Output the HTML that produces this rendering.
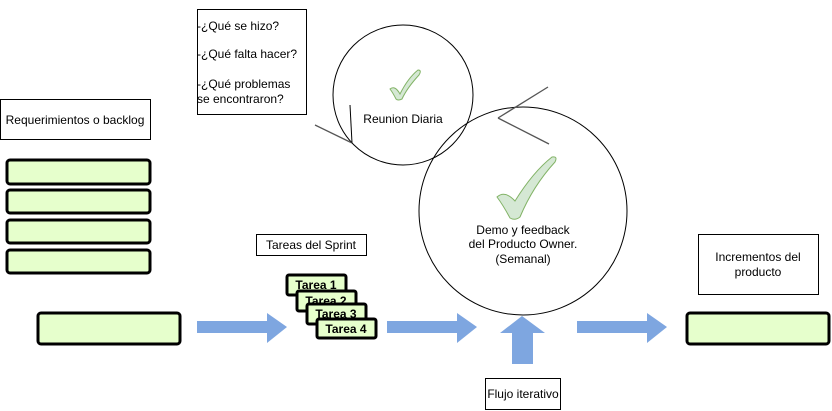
<!DOCTYPE html>
<html><head><meta charset="utf-8"><style>
html,body{margin:0;padding:0;background:#fff}
svg{display:block}
text{font-family:"Liberation Sans",sans-serif;font-size:12px;fill:#000}
</style></head><body>
<svg width="832" height="411" viewBox="0 0 832 411" xmlns="http://www.w3.org/2000/svg">
<rect x="197.5" y="9.5" width="109" height="105" fill="#fff" stroke="#000"/>
<text x="197" y="30">-¿Qué se hizo?</text>
<text x="197" y="58">-¿Qué falta hacer?</text>
<text x="197" y="88">-¿Qué problemas</text>
<text x="197" y="103">se encontraron?</text>
<circle cx="403" cy="95" r="70" fill="none" stroke="#000"/>
<circle cx="523" cy="211" r="104" fill="none" stroke="#000"/>
<line x1="315" y1="125" x2="352" y2="143" stroke="#555" stroke-width="1.3"/>
<line x1="350" y1="105" x2="352" y2="143" stroke="#000" stroke-width="1"/>
<line x1="548" y1="87" x2="498" y2="118" stroke="#555" stroke-width="1.3"/>
<line x1="498" y1="118" x2="549" y2="144" stroke="#555" stroke-width="1.3"/>
<path d="M390,89 Q395,85 400,94 Q408,78 418,70 Q422,70 419,75 Q407,88 402,99 Q398,101 396,99 Q393,93 390,89 Z" fill="#d5e8d4" stroke="#82b366"/>
<path d="M497,197 Q505,190 515,201 Q533,172 552,157 Q558,156 555,162 Q533,186 520,217 Q515,221 510,218 Q503,205 497,197 Z" fill="#d5e8d4" stroke="#82b366"/>
<text x="403" y="123" text-anchor="middle">Reunion Diaria</text>
<text x="523" y="234" text-anchor="middle">Demo y feedback</text>
<text x="523" y="248" text-anchor="middle">del Producto Owner.</text>
<text x="523" y="263" text-anchor="middle">(Semanal)</text>
<rect x="0.5" y="99.5" width="150" height="40" fill="#fff" stroke="#000"/>
<text x="75" y="124" text-anchor="middle">Requerimientos o backlog</text>
<g fill="#e6ffcc" stroke="#000" stroke-width="3">
<rect x="7" y="160" width="143" height="24" rx="3"/>
<rect x="7" y="190" width="143" height="23" rx="3"/>
<rect x="7" y="220" width="143" height="23" rx="3"/>
<rect x="7" y="250" width="143" height="23" rx="3"/>
<rect x="38" y="313" width="142" height="31" rx="3"/>
<rect x="687" y="313" width="142" height="31" rx="3"/>
</g>
<rect x="256.5" y="234.5" width="110" height="21" fill="#fff" stroke="#000"/>
<text x="311" y="249" text-anchor="middle">Tareas del Sprint</text>
<g stroke="#000" stroke-width="3" fill="#e6ffcc">
<rect x="287" y="275" width="59" height="20" rx="2"/>
<text x="316" y="289" text-anchor="middle" stroke="none" style="font-weight:bold">Tarea 1</text>
<rect x="297" y="291" width="59" height="20" rx="2"/>
<text x="326" y="305" text-anchor="middle" stroke="none" style="font-weight:bold">Tarea 2</text>
<rect x="307" y="304" width="59" height="20" rx="2"/>
<text x="336" y="318" text-anchor="middle" stroke="none" style="font-weight:bold">Tarea 3</text>
<rect x="317" y="319" width="59" height="19" rx="2"/>
<text x="346" y="333" text-anchor="middle" stroke="none" style="font-weight:bold">Tarea 4</text>
</g>
<g fill="#7ea6e0">
<polygon points="197,321 267,321 267,313 287,327 267,343 267,333 197,333"/>
<polygon points="387,321 457,321 457,313 477,327 457,343 457,333 387,333"/>
<polygon points="577,321 647,321 647,313 667,327 647,343 647,333 577,333"/>
<polygon points="512,364 512,333 500,333 522,316 545,333 533,333 533,364"/>
</g>
<rect x="485.5" y="378.5" width="75" height="31" fill="#fff" stroke="#000"/>
<text x="523" y="398" text-anchor="middle">Flujo iterativo</text>
<rect x="698.5" y="234.5" width="120" height="60" fill="#fff" stroke="#000"/>
<text x="758" y="261" text-anchor="middle">Incrementos del</text>
<text x="758" y="276" text-anchor="middle">producto</text>
</svg>
</body></html>
